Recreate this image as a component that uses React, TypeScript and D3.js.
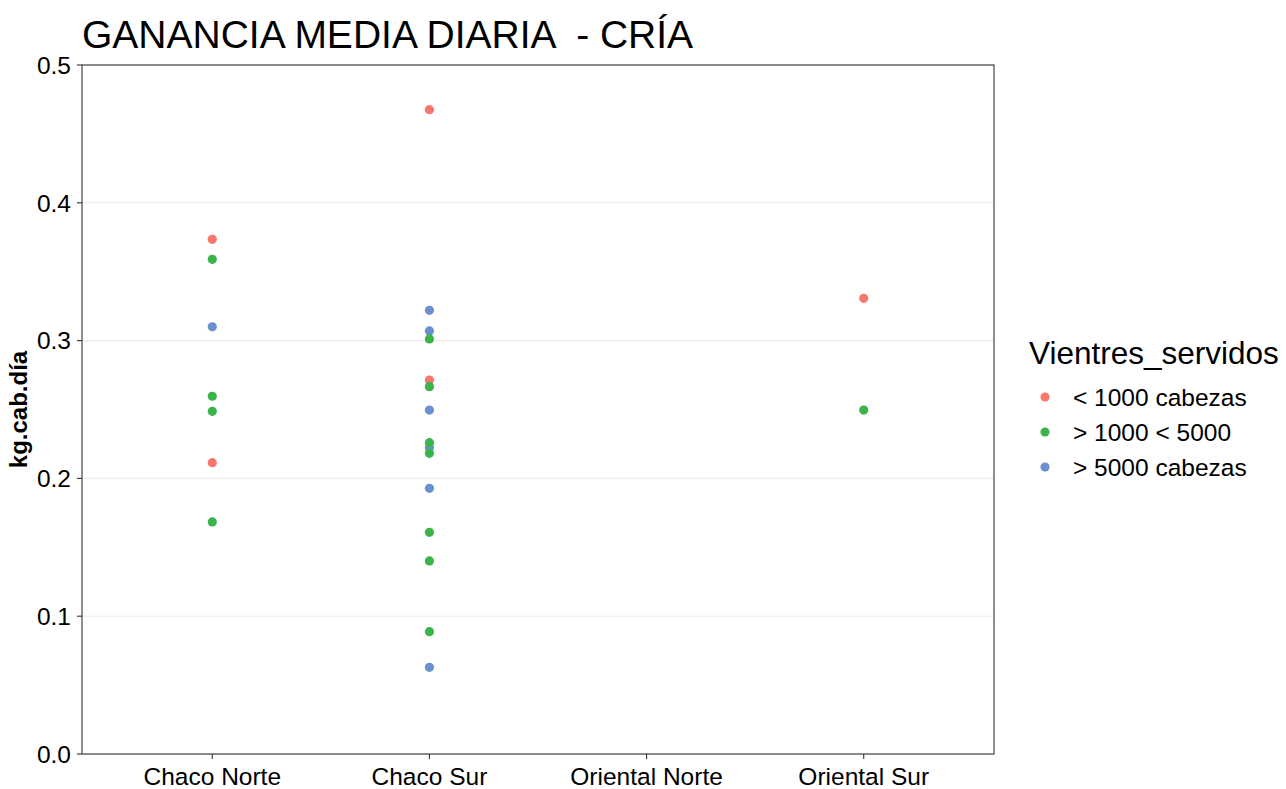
import React from "react";
import * as d3 from "d3";

const categories = ["Chaco Norte", "Chaco Sur", "Oriental Norte", "Oriental Sur"];
const groups = ["< 1000 cabezas", "> 1000 < 5000", "> 5000 cabezas"];
const groupColors = ["#F8766D", "#3BB44A", "#6990D0"];
const yTicks = [0, 0.1, 0.2, 0.3, 0.4, 0.5];

const pointRegion = [
  "Chaco Norte", "Chaco Norte", "Chaco Norte", "Chaco Norte", "Chaco Norte", "Chaco Norte", "Chaco Norte",
  "Chaco Sur", "Chaco Sur", "Chaco Sur", "Chaco Sur", "Chaco Sur", "Chaco Sur", "Chaco Sur", "Chaco Sur",
  "Chaco Sur", "Chaco Sur", "Chaco Sur", "Chaco Sur", "Chaco Sur", "Chaco Sur", "Chaco Sur",
  "Oriental Sur", "Oriental Sur",
];
const pointGroup = [
  0, 1, 2, 1, 1, 0, 1,
  0, 2, 2, 1, 0, 1, 2, 2, 1, 1, 2, 1, 1, 1, 2,
  0, 1,
];
const pointValue = [
  0.3735, 0.359, 0.310, 0.2596, 0.2487, 0.2114, 0.1684,
  0.4676, 0.322, 0.307, 0.3012, 0.2714, 0.2666, 0.2496, 0.2222, 0.2259, 0.2182, 0.1928, 0.1609, 0.1401, 0.0888, 0.0629,
  0.3307, 0.2496,
];

const W = 1286;
const H = 789;
const left = 82;
const right = 994;
const top = 65;
const bottom = 754;

export default function App() {
  const x = d3.scalePoint<string>().domain(categories).range([left, right]).padding(0.6);
  const y = d3.scaleLinear().domain([0, 0.5]).range([bottom, top]);
  const font = "'Liberation Sans', Arial, sans-serif";
  return (
    <svg width={W} height={H} style={{ position: "absolute", left: 0, top: 0, background: "#fff" }}>
      <rect x={0} y={0} width={W} height={H} fill="#fff" />
      {yTicks.map((t) => (
        <line key={"g" + t} x1={left} x2={right} y1={y(t)} y2={y(t)} stroke="#EBEBEB" strokeWidth={1.1} />
      ))}
      {pointValue.map((v, i) => (
        <circle key={i} cx={x(pointRegion[i])!} cy={y(v)} r={4.6} fill={groupColors[pointGroup[i]]} />
      ))}
      <rect x={left} y={top} width={right - left} height={bottom - top} fill="none" stroke="#333" strokeWidth={1.1} />
      {yTicks.map((t) => (
        <g key={"yt" + t}>
          <line x1={left - 5} x2={left} y1={y(t)} y2={y(t)} stroke="#333" strokeWidth={1.1} />
          <text x={left - 11} y={y(t)} dy="0.36em" textAnchor="end" fontFamily={font} fontSize={24.5} fill="#000">
            {t.toFixed(1)}
          </text>
        </g>
      ))}
      {categories.map((c) => (
        <g key={"xt" + c}>
          <line x1={x(c)!} x2={x(c)!} y1={bottom} y2={bottom + 5} stroke="#333" strokeWidth={1.1} />
          <text x={x(c)!} y={bottom + 31} textAnchor="middle" fontFamily={font} fontSize={24.5} fill="#000">
            {c}
          </text>
        </g>
      ))}
      <text
        transform={`translate(27,${(top + bottom) / 2}) rotate(-90)`}
        textAnchor="middle"
        fontFamily={font}
        fontSize={24}
        fontWeight="bold"
        fill="#000"
      >
        kg.cab.día
      </text>
      <text x={82} y={48} fontFamily={font} fontSize={39} fill="#000" style={{ whiteSpace: "pre" }}>
        GANANCIA MEDIA DIARIA  - CRÍA
      </text>
      <text x={1029} y={364} fontFamily={font} fontSize={31.5} fill="#000">
        Vientres_servidos
      </text>
      {groups.map((g, i) => (
        <g key={"lg" + g}>
          <circle cx={1045} cy={397 + i * 35} r={4.6} fill={groupColors[i]} />
          <text x={1073} y={397 + i * 35} dy="0.36em" fontFamily={font} fontSize={24.5} fill="#000">
            {g}
          </text>
        </g>
      ))}
    </svg>
  );
}
